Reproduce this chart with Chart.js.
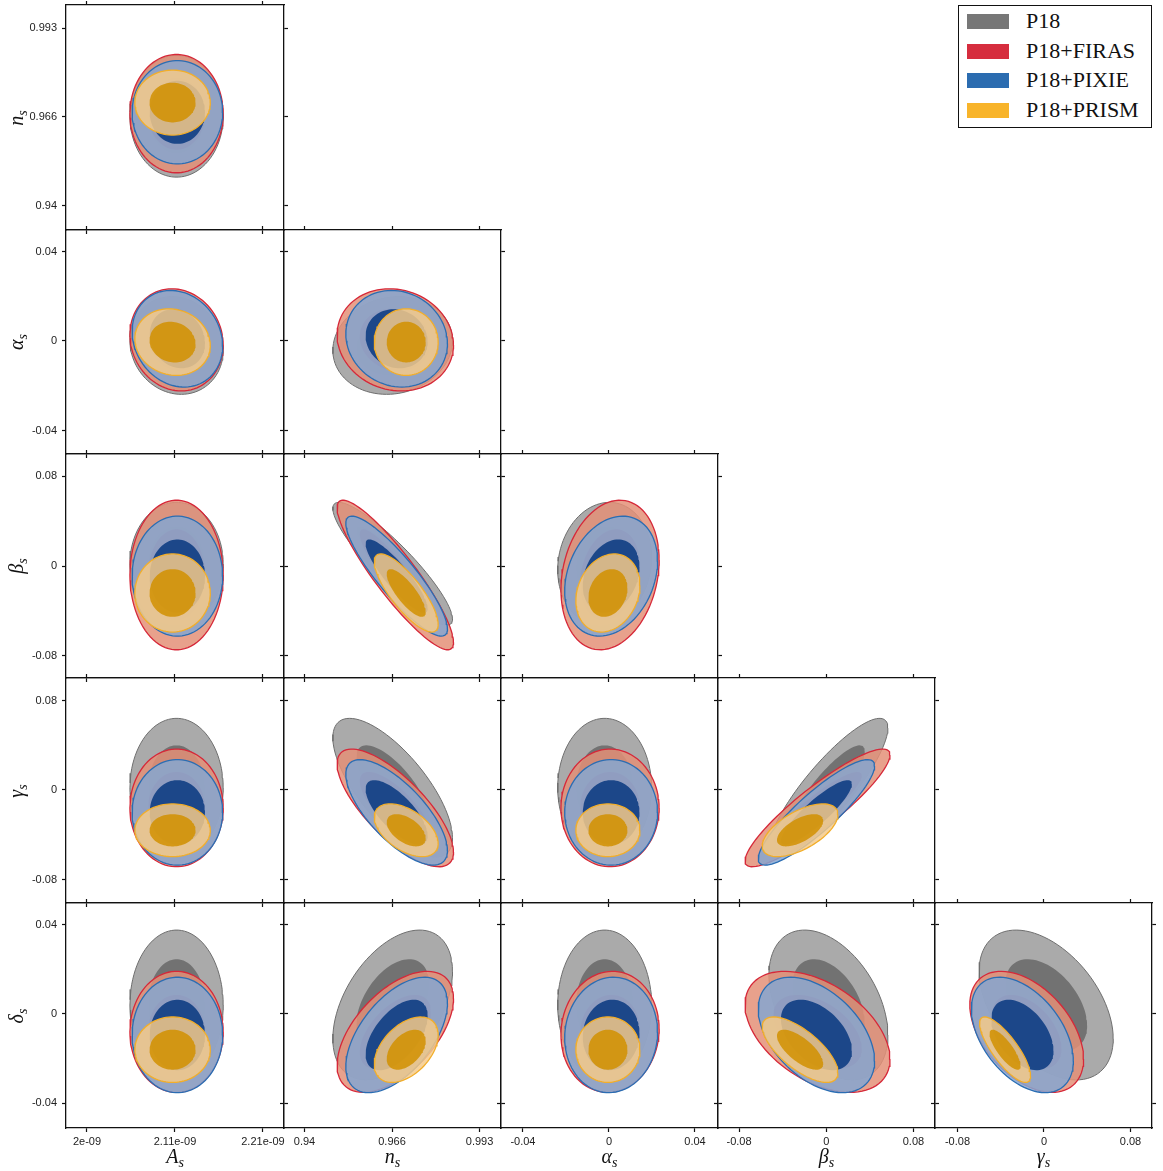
<!DOCTYPE html>
<html>
<head>
<meta charset="utf-8">
<script src="https://cdn.jsdelivr.net/npm/chart.js@4.4.1/dist/chart.umd.min.js"></script>
<style>
  body { margin: 0; background: #fff; width: 1163px; height: 1171px; position: relative; overflow: hidden; }
  canvas { position: absolute; }
  .lab { position: absolute; font-family: 'Liberation Serif', serif; font-style: italic; font-size: 20px; color: #111; white-space: nowrap; transform: translate(-50%, -50%); }
  .lab sub { font-size: 14px; vertical-align: -4px; }
  .ylab { transform: translate(-50%, -50%) rotate(-90deg); }
  #legend { position: absolute; left: 958px; top: 5px; width: 194px; height: 123px; border: 1px solid #111; box-sizing: border-box; }
  #legend .row { position: absolute; left: 8px; height: 20px; }
  #legend .sw { position: absolute; left: 0; top: 2px; width: 42px; height: 15px; }
  #legend .tx { position: absolute; left: 59px; top: -4px; font-family: 'Liberation Serif', serif; font-size: 22px; color: #111; white-space: nowrap; }
</style>
</head>
<body>
<div id="legend"></div>
<script>
// Séries e parâmetros
const seriesNames = ['P18', 'P18+FIRAS', 'P18+PIXIE', 'P18+PRISM'];
const paramLabels = ['<i>A</i><sub>s</sub>', '<i>n</i><sub>s</sub>', '<i>α</i><sub>s</sub>', '<i>β</i><sub>s</sub>', '<i>γ</i><sub>s</sub>', '<i>δ</i><sub>s</sub>'];

// Médias e desvios (A_s em unidades de 1e-9)
// ordem: A_s, n_s, alpha_s, beta_s, gamma_s, delta_s
const p18Mean    = [2.112, 0.9662, -0.002, 0.002, 0.002, 0.004];
const p18Sigma   = [0.0235, 0.0073, 0.0088, 0.022, 0.025, 0.0135];
const firasMean  = [2.112, 0.9670, 0.0005, -0.008, -0.016, -0.008];
const firasSigma = [0.0235, 0.0071, 0.0092, 0.0268, 0.0212, 0.0109];
const pixieMean  = [2.113, 0.9674, 0.001, -0.009, -0.020, -0.0094];
const pixieSigma = [0.0228, 0.0062, 0.0087, 0.0215, 0.019, 0.0104];
const prismMean  = [2.107, 0.9703, -0.0005, -0.024, -0.036, -0.016];
const prismSigma = [0.019, 0.0039, 0.0060, 0.0140, 0.0095, 0.0059];

// Correlações por painel, linha a linha:
// (As,ns) | (As,a),(ns,a) | (As,b),(ns,b),(a,b) | (As,g),(ns,g),(a,g),(b,g) | (As,d),(ns,d),(a,d),(b,d),(g,d)
const p18Corr   = [0.0, -0.1, 0.1, 0.0, -0.9, 0.1, 0.0, -0.72, 0.0, 0.86, 0.0, 0.45, 0.0, -0.4, -0.45];
const firasCorr = [0.0, -0.1, -0.1, 0.0, -0.9, 0.2, 0.0, -0.75, 0.0, 0.9, 0.0, 0.55, 0.05, -0.45, -0.45];
const pixieCorr = [0.0, -0.15, -0.1, 0.0, -0.88, 0.25, 0.0, -0.72, 0.0, 0.88, 0.0, 0.55, 0.05, -0.45, -0.45];
const prismCorr = [0.0, -0.1, 0.0, 0.0, -0.8, 0.2, 0.0, -0.5, 0.0, 0.6, 0.0, 0.45, 0.0, -0.7, -0.8];

// Níveis de confiança dos contornos (externo, interno)
const contourLevels = [0.954, 0.683];

// Ticks
const asTicks = [2.0, 2.11, 2.22];
const asTickLabels = ['2e-09', '2.11e-09', '2.21e-09'];
const nsTicks = [0.9395, 0.966, 0.9925];
const nsTickLabels = ['0.94', '0.966', '0.993'];
const alphaTicks = [-0.04, 0, 0.04];
const alphaTickLabels = ['-0.04', '0', '0.04'];
const betaTicks = [-0.08, 0, 0.08];
const betaTickLabels = ['-0.08', '0', '0.08'];
const gammaTicks = [-0.08, 0, 0.08];
const gammaTickLabels = ['-0.08', '0', '0.08'];
const deltaTicks = [-0.04, 0, 0.04];
const deltaTickLabels = ['-0.04', '0', '0.04'];

// ---- layout e estilos ----
const allMeans = [p18Mean, firasMean, pixieMean, prismMean];
const allSigmas = [p18Sigma, firasSigma, pixieSigma, prismSigma];
const allCorr = [p18Corr, firasCorr, pixieCorr, prismCorr];
const allTicks = [asTicks, nsTicks, alphaTicks, betaTicks, gammaTicks, deltaTicks];
const allTickLabels = [asTickLabels, nsTickLabels, alphaTickLabels, betaTickLabels, gammaTickLabels, deltaTickLabels];

const colEdges = [66, 284, 501, 718, 935, 1152];
const rowEdges = [5, 230, 454, 678, 903, 1128];
// faixas dos eixos (horizontal por coluna, vertical por linha)
const xRange = [[1.9738, 2.2463], [0.9333, 0.9990], [-0.0502, 0.0507], [-0.0993, 0.0998], [-0.1008, 0.0999]];
const yRange = [null, [0.93235, 0.99935], [-0.0505, 0.0496], [-0.0996, 0.0996], [-0.101, 0.1001], [-0.051, 0.0496]];

const fillOuter = ['rgba(155,155,155,0.85)', 'rgba(228,144,120,0.85)', 'rgba(134,167,209,0.85)', 'rgba(244,202,137,0.85)'];
const fillInner = ['rgba(105,105,105,0.85)', 'rgba(200,95,95,0.85)', 'rgba(8,56,127,0.85)', 'rgba(209,144,0,0.85)'];
const edgeColor = ['#6e6e6e', '#d62839', '#2a6db3', '#f2ae2a'];
const legendColor = ['#777777', '#d62d3e', '#2b6cb0', '#f8b42a'];

// Contorno gaussiano a partir de média, desvio e correlação
function contourPoints(mx, my, sx, sy, rho, level) {
    const r = Math.sqrt(-2 * Math.log(1 - level));
    const pts = [];
    const n = 90;
    for (let k = 0; k <= n; k++) {
        const t = 2 * Math.PI * k / n;
        const u = Math.cos(t), v = Math.sin(t);
        pts.push({
            x: mx + r * sx * u,
            y: my + r * sy * (rho * u + Math.sqrt(1 - rho * rho) * v)
        });
    }
    return pts;
}

function makeAxis(position, range, ticks, labels, showLabels, size) {
    const horiz = position === 'top' || position === 'bottom';
    return {
        type: 'linear',
        position: position,
        min: range[0],
        max: range[1],
        afterBuildTicks: function(scale) {
            scale.ticks = ticks.map(v => ({ value: v }));
        },
        afterFit: function(scale) {
            if (horiz) scale.height = size; else scale.width = size;
            // não deixar os rótulos encolherem a área do gráfico
            scale.paddingTop = 0;
            scale.paddingBottom = 0;
            scale.paddingLeft = 0;
            scale.paddingRight = 0;
        },
        ticks: {
            display: showLabels,
            autoSkip: false,
            maxRotation: 0,
            padding: horiz ? 3 : 5,
            color: '#222',
            font: { family: "'Liberation Sans', sans-serif", size: 11 },
            callback: function(value, index) { return labels[index]; }
        },
        grid: { drawOnChartArea: false, drawTicks: true, tickLength: 4, color: '#111', tickWidth: 1.2 },
        border: { display: true, color: '#111', width: 1.3 }
    };
}

function buildPanel(row, col) {
    // row: índice do parâmetro vertical (1..5), col: índice do parâmetro horizontal (0..row-1)
    const pairIndex = (row - 1) * row / 2 + col;
    const datasets = [];
    let k = 0;
    for (let s = 0; s < seriesNames.length; s++) {
        const m = allMeans[s], sg = allSigmas[s], rho = allCorr[s][pairIndex];
        contourLevels.forEach((lvl, li) => {
            datasets.push({
                label: seriesNames[s],
                data: contourPoints(m[col], m[row], sg[col], sg[row], rho, lvl),
                showLine: true,
                fill: 'shape',
                tension: 0,
                pointRadius: 0,
                backgroundColor: li === 0 ? fillOuter[s] : fillInner[s],
                borderColor: li === 0 ? edgeColor[s] : 'rgba(0,0,0,0)',
                borderWidth: li === 0 ? (s === 0 ? 1 : 1.3) : 0,
                order: -k
            });
            k++;
        });
    }

    const L = colEdges[col], R = colEdges[col + 1];
    const T = rowEdges[row - 1], B = rowEdges[row];
    const padL = col === 0 ? 66 : 6, padR = 6, padT = 6, padB = row === 5 ? 43 : 6;

    const canvas = document.createElement('canvas');
    const w = R - L + padL + padR, h = B - T + padT + padB;
    canvas.width = w; canvas.height = h;
    canvas.style.left = (L - padL) + 'px';
    canvas.style.top = (T - padT) + 'px';
    canvas.style.width = w + 'px';
    canvas.style.height = h + 'px';
    document.body.appendChild(canvas);

    new Chart(canvas, {
        type: 'scatter',
        data: { datasets: datasets },
        options: {
            responsive: false,
            animation: false,
            devicePixelRatio: 1,
            events: [],
            layout: { padding: 0 },
            plugins: { legend: { display: false }, tooltip: { enabled: false } },
            scales: {
                x: makeAxis('bottom', xRange[col], allTicks[col], allTickLabels[col], row === 5, padB),
                x2: makeAxis('top', xRange[col], allTicks[col], allTickLabels[col], false, padT),
                y: makeAxis('left', yRange[row], allTicks[row], allTickLabels[row], col === 0, padL),
                y2: makeAxis('right', yRange[row], allTicks[row], allTickLabels[row], false, padR)
            }
        }
    });
}

function addLabel(html, x, y, vertical) {
    const el = document.createElement('div');
    el.className = 'lab' + (vertical ? ' ylab' : '');
    el.innerHTML = html;
    el.style.left = x + 'px';
    el.style.top = y + 'px';
    document.body.appendChild(el);
}

function buildLegend() {
    const box = document.getElementById('legend');
    const rowTops = [6, 36, 65, 95];
    seriesNames.forEach((name, i) => {
        const r = document.createElement('div');
        r.className = 'row';
        r.style.top = rowTops[i] + 'px';
        r.innerHTML = '<div class="sw" style="background:' + legendColor[i] + '"></div><div class="tx">' + name + '</div>';
        box.appendChild(r);
    });
}

document.addEventListener('DOMContentLoaded', function() {
    for (let row = 1; row <= 5; row++) {
        for (let col = 0; col < row; col++) {
            buildPanel(row, col);
        }
    }
    // rótulos dos eixos
    for (let row = 1; row <= 5; row++) {
        addLabel(paramLabels[row], 18, (rowEdges[row - 1] + rowEdges[row]) / 2, true);
    }
    for (let col = 0; col < 5; col++) {
        addLabel(paramLabels[col], (colEdges[col] + colEdges[col + 1]) / 2, 1158, false);
    }
    buildLegend();
});
</script>
</body>
</html>
